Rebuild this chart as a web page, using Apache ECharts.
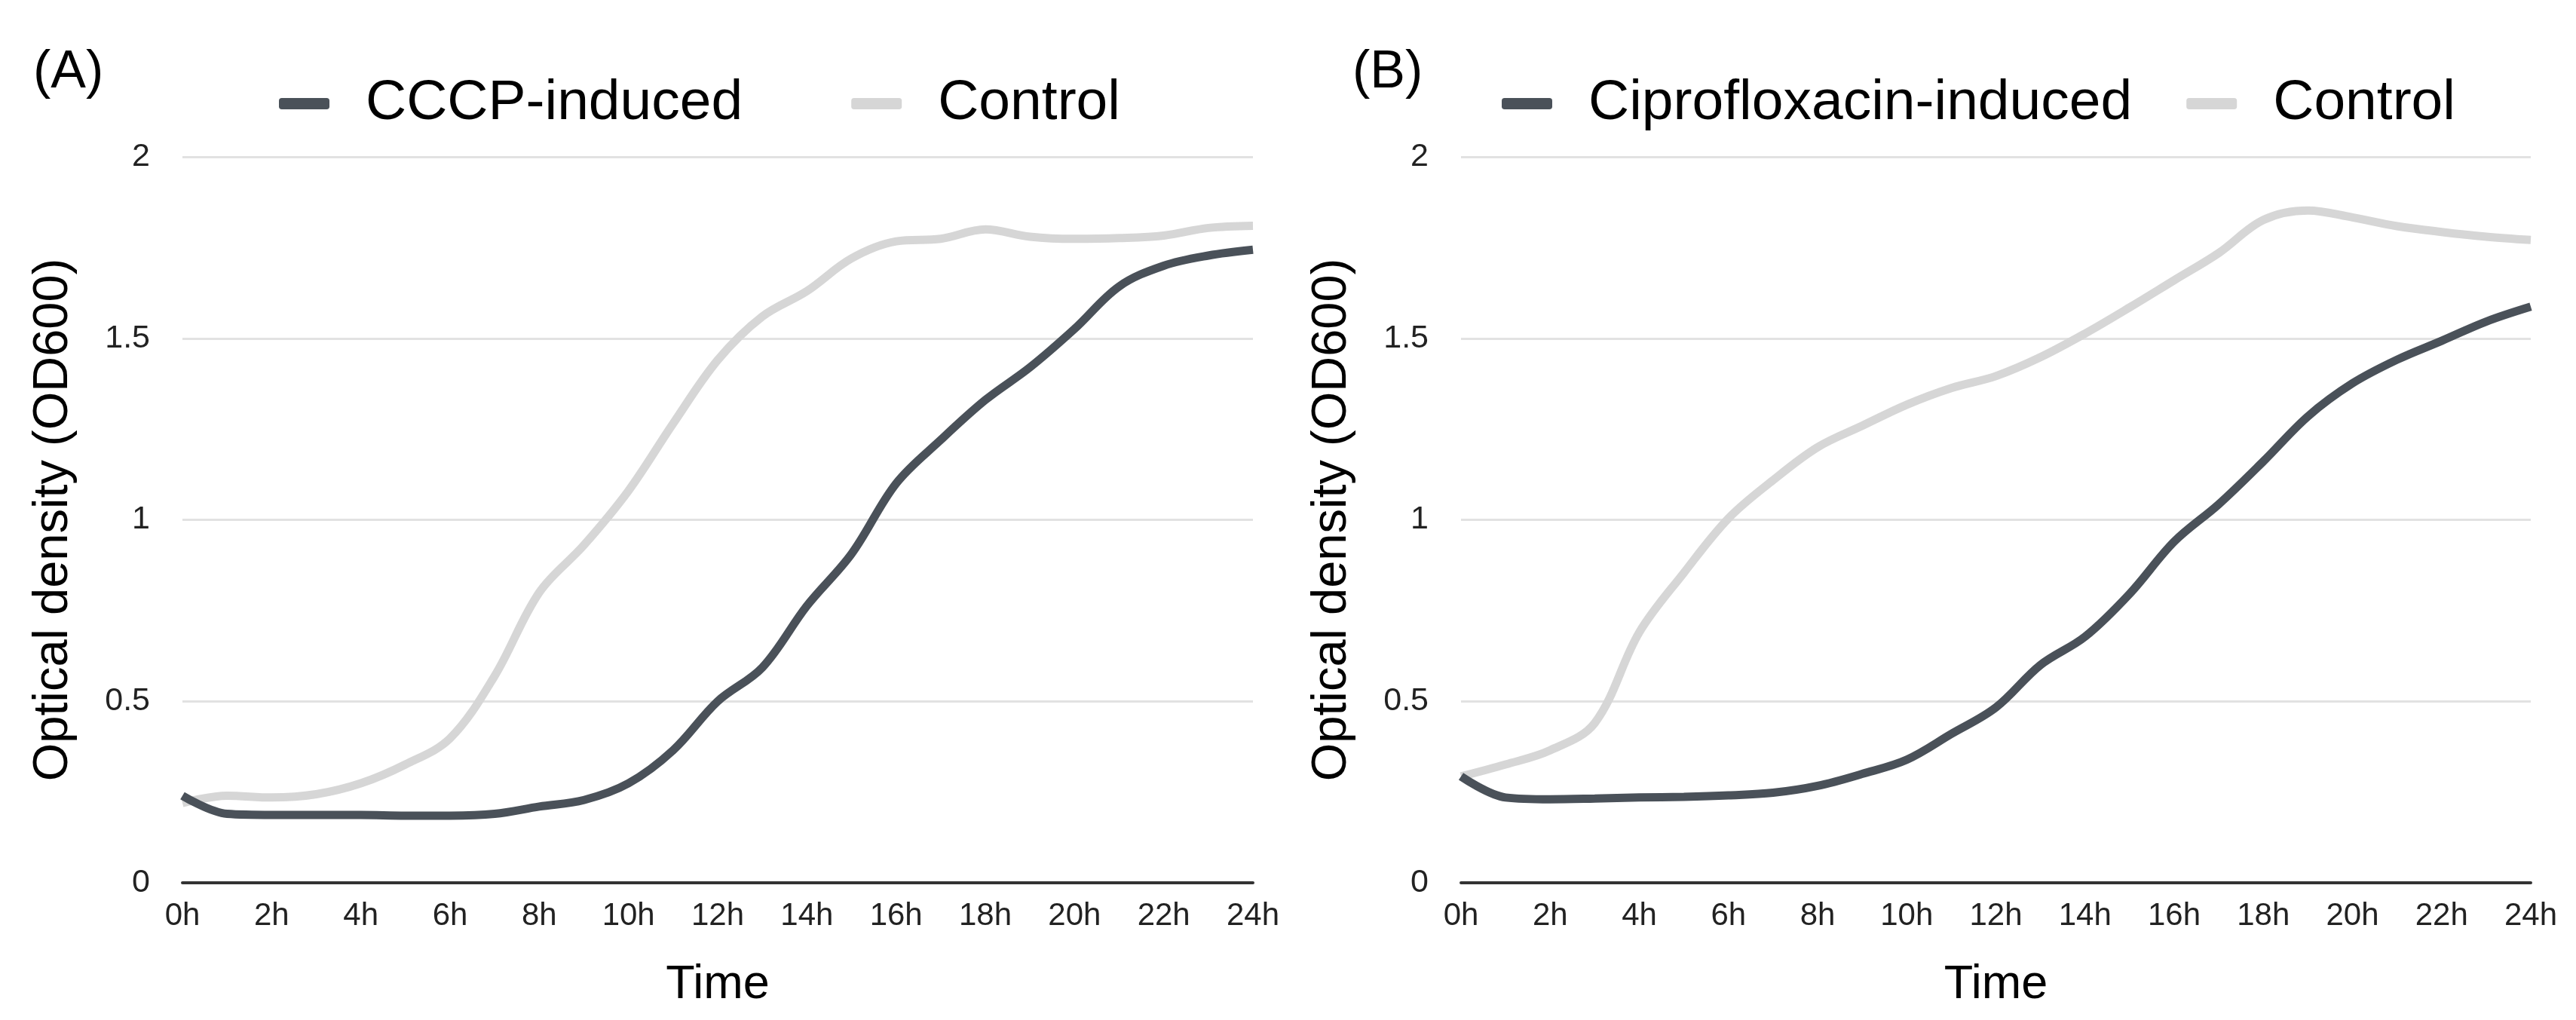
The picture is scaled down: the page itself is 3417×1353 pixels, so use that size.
<!DOCTYPE html>
<html>
<head>
<meta charset="utf-8">
<script src="https://cdn.jsdelivr.net/npm/echarts@6/dist/echarts.min.js"></script>
<style>
html,body{margin:0;padding:0;background:#fff;}
#chart{width:3417px;height:1353px;}
</style>
</head>
<body>
<div id="chart"></div>
<script>
const hours = ['0h','1h','2h','3h','4h','5h','6h','7h','8h','9h','10h','11h','12h','13h','14h','15h','16h','17h','18h','19h','20h','21h','22h','23h','24h'];
const cccpInduced = [0.24,0.19,0.187,0.187,0.187,0.185,0.185,0.19,0.21,0.228,0.274,0.365,0.50,0.593,0.763,0.906,1.10,1.22,1.33,1.42,1.526,1.643,1.70,1.728,1.744];
const controlA = [0.22,0.24,0.235,0.244,0.274,0.326,0.398,0.57,0.80,0.93,1.08,1.265,1.44,1.56,1.63,1.72,1.767,1.774,1.80,1.78,1.774,1.776,1.783,1.804,1.81];
const ciproInduced = [0.293,0.235,0.23,0.232,0.235,0.237,0.241,0.248,0.267,0.30,0.339,0.41,0.483,0.60,0.678,0.796,0.94,1.043,1.161,1.285,1.376,1.441,1.493,1.546,1.587];
const controlB = [0.293,0.326,0.365,0.44,0.69,0.854,1.004,1.109,1.20,1.259,1.317,1.363,1.396,1.448,1.513,1.585,1.66,1.735,1.826,1.852,1.833,1.809,1.793,1.78,1.771];
const panelLabels = ['(A)','(B)'];

const FONT = '"Liberation Sans", Arial, sans-serif';
const DARK = '#4a5159';
const LIGHT = '#d6d6d6';

function xAxis(gi){
  return {
    type:'category', gridIndex:gi, data:hours, boundaryGap:false,
    axisLine:{show:true, lineStyle:{color:'#333', width:4}},
    axisTick:{show:false},
    axisLabel:{interval:1, margin:23, fontSize:42, color:'#222', fontFamily:FONT},
    splitLine:{show:false},
    name:'Time', nameLocation:'middle', nameGap:104,
    nameTextStyle:{fontSize:63, color:'#000', fontFamily:FONT}
  };
}
function yAxis(gi){
  return {
    type:'value', gridIndex:gi, min:0, max:2, interval:0.5,
    axisLine:{show:false}, axisTick:{show:false},
    axisLabel:{margin:43, fontSize:43, color:'#222', fontFamily:FONT},
    splitLine:{show:true, lineStyle:{color:'#e2e2e2', width:3}},
    name:'Optical density (OD600)', nameLocation:'middle', nameGap:138, nameRotate:90,
    nameTextStyle:{fontSize:65, color:'#000', fontFamily:FONT}
  };
}
function line(name, data, gi, color, z){
  return {
    name, type:'line', data, xAxisIndex:gi, yAxisIndex:gi,
    smooth:0.35, showSymbol:false, symbol:'none', z,
    lineStyle:{color, width:11},
    itemStyle:{color},
    emphasis:{disabled:true}
  };
}

const chart = echarts.init(document.getElementById('chart'), null, {renderer:'canvas'});
chart.setOption({
  animation:false,
  backgroundColor:'#fff',
  title:[
    {text:panelLabels[0], left:44, top:62, padding:0, textStyle:{fontSize:70, fontWeight:'normal', color:'#000', fontFamily:FONT}},
    {text:panelLabels[1], left:1794, top:62, padding:0, textStyle:{fontSize:70, fontWeight:'normal', color:'#000', fontFamily:FONT}}
  ],
  legend:[
    {data:['CCCP-induced','Control'], left:370, top:100, icon:'roundRect', itemWidth:67, itemHeight:15, itemGap:144, padding:0,
     textStyle:{fontSize:75, color:'#000', fontFamily:FONT, padding:[0,0,0,43]}},
    {data:['Ciprofloxacin-induced','Control'], left:1992, top:100, icon:'roundRect', itemWidth:67, itemHeight:15, itemGap:72, padding:0,
     textStyle:{fontSize:75, color:'#000', fontFamily:FONT, padding:[0,0,0,43]}}
  ],
  grid:[
    {left:242, width:1420, top:208, height:963},
    {left:1938, width:1419, top:208, height:963}
  ],
  xAxis:[xAxis(0), xAxis(1)],
  yAxis:[yAxis(0), yAxis(1)],
  series:[
    line('Control', controlA, 0, LIGHT, 2),
    line('CCCP-induced', cccpInduced, 0, DARK, 3),
    line('Control', controlB, 1, LIGHT, 2),
    line('Ciprofloxacin-induced', ciproInduced, 1, DARK, 3)
  ]
});
</script>
</body>
</html>
